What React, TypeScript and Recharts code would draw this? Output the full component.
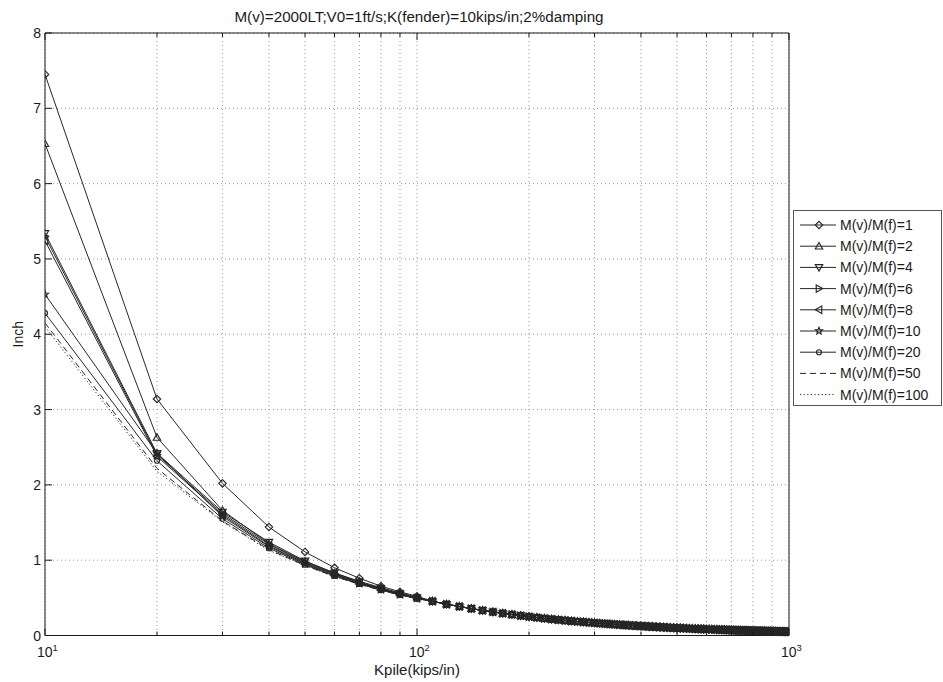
import React from 'react';
import { LineChart, Line, XAxis, YAxis, CartesianGrid, Legend, Label } from 'recharts';

const kpile = [
  10, 20, 30, 40, 50, 60, 70, 80, 90, 100,
  110, 120, 130, 140, 150, 160, 170, 180, 190, 200,
  210, 220, 230, 240, 250, 260, 270, 280, 290, 300,
  310, 320, 330, 340, 350, 360, 370, 380, 390, 400,
  410, 420, 430, 440, 450, 460, 470, 480, 490, 500,
  510, 520, 530, 540, 550, 560, 570, 580, 590, 600,
  610, 620, 630, 640, 650, 660, 670, 680, 690, 700,
  710, 720, 730, 740, 750, 760, 770, 780, 790, 800,
  810, 820, 830, 840, 850, 860, 870, 880, 890, 900,
  910, 920, 930, 940, 950, 960, 970, 980, 990, 1000,
];

// values for Kpile = 10..100 (each series)
const m1Head = [7.45, 3.14, 2.02, 1.44, 1.11, 0.9, 0.76, 0.655, 0.58, 0.52];
const m2Head = [6.53, 2.63, 1.66, 1.22, 0.98, 0.83, 0.72, 0.635, 0.565, 0.51];
const m4Head = [5.34, 2.42, 1.64, 1.24, 0.99, 0.83, 0.71, 0.625, 0.555, 0.5];
const m6Head = [5.3, 2.4, 1.62, 1.21, 0.97, 0.82, 0.7, 0.62, 0.55, 0.5];
const m8Head = [5.24, 2.38, 1.6, 1.19, 0.96, 0.81, 0.7, 0.615, 0.55, 0.495];
const m10Head = [4.53, 2.42, 1.58, 1.18, 0.95, 0.8, 0.69, 0.61, 0.545, 0.495];
const m20Head = [4.28, 2.32, 1.55, 1.16, 0.94, 0.79, 0.685, 0.605, 0.54, 0.49];
const m50Head = [4.15, 2.22, 1.52, 1.14, 0.93, 0.785, 0.68, 0.6, 0.54, 0.49];
const m100Head = [4.1, 2.18, 1.51, 1.13, 0.93, 0.78, 0.68, 0.6, 0.535, 0.49];

// values for Kpile = 110..1000 (all curves coincide)
const sharedTail = [
  0.455, 0.415, 0.385, 0.357, 0.333, 0.313, 0.295, 0.278, 0.263, 0.25,
  0.238, 0.227, 0.217, 0.208, 0.2, 0.192, 0.185, 0.179, 0.172, 0.167,
  0.161, 0.156, 0.152, 0.147, 0.143, 0.139, 0.135, 0.132, 0.128, 0.125,
  0.122, 0.119, 0.116, 0.114, 0.111, 0.109, 0.106, 0.104, 0.102, 0.1,
  0.098, 0.096, 0.094, 0.093, 0.091, 0.089, 0.088, 0.086, 0.085, 0.083,
  0.082, 0.081, 0.079, 0.078, 0.077, 0.076, 0.075, 0.074, 0.072, 0.071,
  0.07, 0.069, 0.068, 0.068, 0.067, 0.066, 0.065, 0.064, 0.063, 0.063,
  0.062, 0.061, 0.06, 0.06, 0.059, 0.058, 0.057, 0.057, 0.056, 0.056,
  0.055, 0.054, 0.054, 0.053, 0.053, 0.052, 0.052, 0.051, 0.051, 0.05,
];

const seriesNames = [
  'M(v)/M(f)=1', 'M(v)/M(f)=2', 'M(v)/M(f)=4', 'M(v)/M(f)=6', 'M(v)/M(f)=8',
  'M(v)/M(f)=10', 'M(v)/M(f)=20', 'M(v)/M(f)=50', 'M(v)/M(f)=100',
];
const seriesShapes = ['diamond', 'triUp', 'triDown', 'triRight', 'triLeft', 'star', 'circle', 'none', 'none'];
const seriesDashes = ['', '', '', '', '', '', '', '6 4', '1.2 2.4'];
const seriesHeads = [m1Head, m2Head, m4Head, m6Head, m8Head, m10Head, m20Head, m50Head, m100Head];

const xGridTicks = [10, 20, 30, 40, 50, 60, 70, 80, 90, 100, 200, 300, 400, 500, 600, 700, 800, 900, 1000];
const xMajorTicks = [10, 100, 1000];
const yTicks = [0, 1, 2, 3, 4, 5, 6, 7, 8];

const title = 'M(v)=2000LT;V0=1ft/s;K(fender)=10kips/in;2%damping';
const xLabel = 'Kpile(kips/in)';
const yLabel = 'Inch';

const FONT = '"Liberation Sans", Arial, Helvetica, sans-serif';
const INK = '#1a1a1a';
const LINE = '#262626';

const data = kpile.map((k, i) => {
  const row: Record<string, number> = { k };
  seriesHeads.forEach((head, s) => {
    const vals = [...head, ...sharedTail];
    row['s' + s] = vals[i];
  });
  return row;
});

function markerPath(shape: string, cx: number, cy: number): string | null {
  const r = 3.7;
  switch (shape) {
    case 'diamond':
      return `M${cx},${cy - r}L${cx + r},${cy}L${cx},${cy + r}L${cx - r},${cy}Z`;
    case 'triUp':
      return `M${cx},${cy - r}L${cx + r},${cy + r * 0.75}L${cx - r},${cy + r * 0.75}Z`;
    case 'triDown':
      return `M${cx},${cy + r}L${cx + r},${cy - r * 0.75}L${cx - r},${cy - r * 0.75}Z`;
    case 'triRight':
      return `M${cx + r},${cy}L${cx - r * 0.75},${cy - r}L${cx - r * 0.75},${cy + r}Z`;
    case 'triLeft':
      return `M${cx - r},${cy}L${cx + r * 0.75},${cy - r}L${cx + r * 0.75},${cy + r}Z`;
    case 'star': {
      const pts: string[] = [];
      for (let j = 0; j < 10; j++) {
        const rad = j % 2 === 0 ? 3.7 : 1.6;
        const a = -Math.PI / 2 + (j * Math.PI) / 5;
        pts.push(`${cx + rad * Math.cos(a)},${cy + rad * Math.sin(a)}`);
      }
      return 'M' + pts.join('L') + 'Z';
    }
    default:
      return null;
  }
}

function Marker({ shape, cx, cy }: { shape: string; cx: number; cy: number }) {
  if (shape === 'none') return null;
  if (shape === 'circle') return <circle cx={cx} cy={cy} r={2.5} fill="none" stroke={LINE} strokeWidth={1.15} />;
  const d = markerPath(shape, cx, cy);
  return d ? <path d={d} fill="none" stroke={LINE} strokeWidth={1.15} /> : null;
}

const makeDot = (shape: string, s: number) => (p: any) => {
  const { cx, cy, index } = p;
  if (shape === 'none' || cx == null || cy == null) return <g key={`d${s}-${index}`} />;
  return (
    <g key={`d${s}-${index}`}>
      <Marker shape={shape} cx={cx} cy={cy} />
    </g>
  );
};

const BottomTick = (props: any) => {
  const { x, y, payload } = props;
  const v = payload.value;
  const major = xMajorTicks.includes(v);
  const exp = Math.round(Math.log10(v));
  return (
    <g>
      <line x1={x} x2={x} y1={y} y2={y - (major ? 7 : 4)} stroke={INK} />
      {major && (
        <text x={x - 8} y={y + 21} fontSize={14} fill={INK} fontFamily={FONT}>
          10
          <tspan dy={-6} fontSize={9.5}>{exp}</tspan>
        </text>
      )}
    </g>
  );
};

const TopTick = (props: any) => {
  const { x, y, payload } = props;
  const major = xMajorTicks.includes(payload.value);
  return <line x1={x} x2={x} y1={y} y2={y + (major ? 7 : 4)} stroke={INK} />;
};

const LeftTick = (props: any) => {
  const { x, y, payload } = props;
  return (
    <g>
      <line x1={x} x2={x + 7} y1={y} y2={y} stroke={INK} />
      <text x={x - 4} y={y} dy="0.36em" textAnchor="end" fontSize={14} fill={INK} fontFamily={FONT}>
        {payload.value}
      </text>
    </g>
  );
};

const RightTick = (props: any) => {
  const { x, y } = props;
  return <line x1={x} x2={x - 7} y1={y} y2={y} stroke={INK} />;
};

const LegendBox = () => (
  <svg width={149} height={196} style={{ display: 'block' }}>
    <rect x={0.5} y={0.5} width={148} height={195} fill="#fff" stroke="#555" />
    {seriesNames.map((name, i) => {
      const cy = 15 + i * 21.2;
      return (
        <g key={name}>
          <line x1={7} x2={43} y1={cy} y2={cy} stroke={LINE} strokeWidth={1} strokeDasharray={seriesDashes[i] || undefined} />
          <Marker shape={seriesShapes[i]} cx={26} cy={cy} />
          <text x={47} y={cy} dy="0.36em" fontSize={14} fill={INK} fontFamily={FONT}>
            {name}
          </text>
        </g>
      );
    })}
  </svg>
);

export default function App() {
  return (
    <div style={{ position: 'absolute', left: 0, top: 0, background: '#fff' }}>
      <LineChart
        width={943}
        height={682}
        data={data}
        margin={{ top: 0, right: 0, bottom: 0, left: 0 }}
        style={{ fontFamily: FONT }}
      >
        <CartesianGrid stroke="#9a9a9a" strokeDasharray="1 3" strokeWidth={1} />
        <XAxis
          dataKey="k"
          type="number"
          scale="log"
          domain={[10, 1000]}
          allowDataOverflow
          ticks={xGridTicks}
          interval={0}
          height={46.5}
          tickSize={0}
          tickMargin={0}
          tickLine={false}
          axisLine={{ stroke: INK }}
          tick={BottomTick}
        >
          <Label
            content={(p: any) => {
              const vb = p.viewBox || { x: 45, width: 744 };
              return (
                <text x={vb.x + vb.width / 2} y={675} textAnchor="middle" fontSize={15} fill={INK} fontFamily={FONT}>
                  {xLabel}
                </text>
              );
            }}
          />
        </XAxis>
        <XAxis
          xAxisId="top"
          orientation="top"
          dataKey="k"
          type="number"
          scale="log"
          domain={[10, 1000]}
          allowDataOverflow
          ticks={xGridTicks}
          interval={0}
          height={33}
          tickSize={0}
          tickMargin={0}
          tickLine={false}
          axisLine={{ stroke: INK }}
          tick={TopTick}
        >
          <Label
            content={(p: any) => {
              const vb = p.viewBox || { x: 45, width: 744 };
              return (
                <text x={vb.x + vb.width / 2 + 2} y={22} textAnchor="middle" fontSize={15.2} fill={INK} fontFamily={FONT}>
                  {title}
                </text>
              );
            }}
          />
        </XAxis>
        <YAxis
          type="number"
          domain={[0, 8]}
          ticks={yTicks}
          interval={0}
          width={45}
          tickSize={0}
          tickMargin={0}
          tickLine={false}
          axisLine={{ stroke: INK }}
          tick={LeftTick}
        >
          <Label
            content={(p: any) => {
              const vb = p.viewBox || { y: 33, height: 602.5 };
              const cy = vb.y + vb.height / 2;
              return (
                <text x={23} y={cy} textAnchor="middle" fontSize={14} fill={INK} fontFamily={FONT} transform={`rotate(-90 23 ${cy})`}>
                  {yLabel}
                </text>
              );
            }}
          />
        </YAxis>
        <YAxis
          yAxisId="right"
          orientation="right"
          type="number"
          domain={[0, 8]}
          ticks={yTicks}
          interval={0}
          width={154}
          tickSize={0}
          tickMargin={0}
          tickLine={false}
          axisLine={{ stroke: INK }}
          tick={RightTick}
        />
        <Legend
          layout="vertical"
          align="center"
          verticalAlign="middle"
          wrapperStyle={{ position: 'absolute', left: 793, top: 210, width: 149, height: 196, margin: 0, padding: 0 }}
          content={() => <LegendBox />}
        />
        {seriesNames.map((name, s) => (
          <Line
            key={name}
            name={name}
            dataKey={'s' + s}
            type="linear"
            stroke={LINE}
            strokeWidth={1}
            strokeDasharray={seriesDashes[s] || undefined}
            dot={makeDot(seriesShapes[s], s)}
            activeDot={false}
            isAnimationActive={false}
          />
        ))}
      </LineChart>
    </div>
  );
}
